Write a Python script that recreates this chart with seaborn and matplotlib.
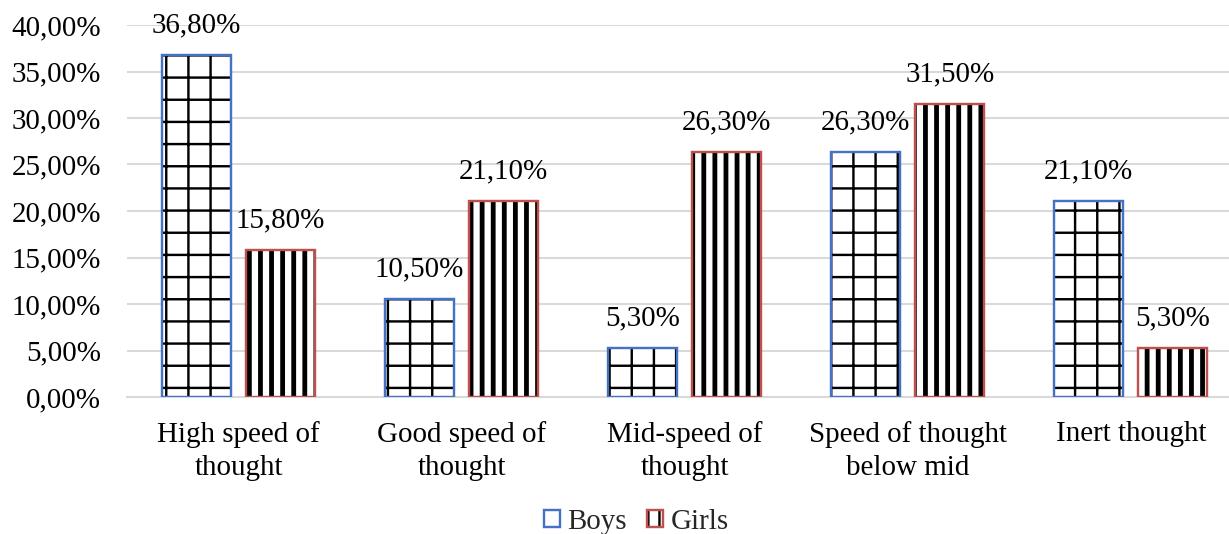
import matplotlib
matplotlib.use("Agg")
import matplotlib.pyplot as plt
from matplotlib.patches import Patch
from matplotlib.legend_handler import HandlerTuple
import seaborn as sns
import pandas as pd

categories = ["High speed of\nthought", "Good speed of\nthought", "Mid-speed of\nthought",
              "Speed of thought\nbelow mid", "Inert thought"]
boys = [36.8, 10.5, 5.3, 26.3, 21.1]
girls = [15.8, 21.1, 26.3, 31.5, 5.3]
groups = ["Boys", "Girls"]
y_ticks = [0, 5, 10, 15, 20, 25, 30, 35, 40]

BLUE = "#4472C4"
RED = "#C0504D"
GRID = "#D9D9D9"
FS = 15.7

df = pd.DataFrame({
    "category": categories * 2,
    "value": boys + girls,
    "group": ["Boys"] * len(boys) + ["Girls"] * len(girls),
})

sns.set_style("white")
plt.rcParams["font.family"] = ["Liberation Serif", "DejaVu Serif"]
plt.rcParams["hatch.linewidth"] = 1.3

DPI = 133
fig = plt.figure(figsize=(1229 / DPI, 534 / DPI), dpi=DPI)
ax = fig.add_axes([127 / 1229, 1 - 397 / 534, 1 - 127 / 1229, (397 - 25) / 534])

# hatched fills
sns.barplot(data=df, x="category", y="value", hue="group", hue_order=groups,
            palette={"Boys": "white", "Girls": "white"}, edgecolor="black",
            linewidth=0, width=0.753, gap=0.18, ax=ax, legend=False, zorder=2)
hatches = {"Boys": "+", "Girls": "||"}
hatch_lw = {"Boys": 1.3, "Girls": 2.6}
for cont, g in zip(ax.containers, groups):
    for bar in cont:
        bar.set_hatch(hatches[g])
        if hasattr(bar, "set_hatch_linewidth"):
            bar.set_hatch_linewidth(hatch_lw[g])

# coloured outlines
n_before = len(ax.containers)
sns.barplot(data=df, x="category", y="value", hue="group", hue_order=groups,
            palette={"Boys": BLUE, "Girls": RED}, fill=False, linewidth=1.3,
            width=0.753, gap=0.18, ax=ax, legend=False, zorder=3)

for cont in ax.containers[n_before:]:
    labels = [f"{v:.2f}%".replace(".", ",") for v in cont.datavalues]
    ax.bar_label(cont, labels=labels, padding=9, fontsize=FS, color="#000000")

ax.set_ylim(0, 40)
ax.set_xlim(-0.5, 4.44)
ax.set_yticks(y_ticks)
ax.set_yticklabels([f"{t:.2f}%".replace(".", ",") for t in y_ticks])
ax.yaxis.grid(True, color=GRID, linewidth=1.1, zorder=0)
ax.set_axisbelow(True)
for s in ["left", "right", "top"]:
    ax.spines[s].set_visible(False)
ax.spines["bottom"].set_color(GRID)
ax.spines["bottom"].set_linewidth(1.1)
ax.tick_params(axis="y", length=0, pad=14, labelsize=FS, labelcolor="black")
ax.tick_params(axis="x", length=0, pad=13, labelsize=FS, labelcolor="black")
for lab in ax.get_xticklabels():
    lab.set_linespacing(1.35)
ax.set_xlabel("")
ax.set_ylabel("")

# legend
boys_h = (Patch(facecolor="white", edgecolor="black", linewidth=0),
          Patch(facecolor="none", edgecolor=BLUE, linewidth=1.3))
girls_fill = Patch(facecolor="white", edgecolor="black", hatch="||", linewidth=0)
girls_h = (girls_fill, Patch(facecolor="none", edgecolor=RED, linewidth=1.3))
fig.legend([boys_h, girls_h], groups, handler_map={tuple: HandlerTuple(ndivide=1, pad=0)},
           loc="lower center", bbox_to_anchor=(0.518, -0.05), ncol=2, frameon=False,
           fontsize=FS, handlelength=0.55, handleheight=0.55, handletextpad=0.25,
           columnspacing=0.7)

fig.savefig("out.png", dpi=DPI)
